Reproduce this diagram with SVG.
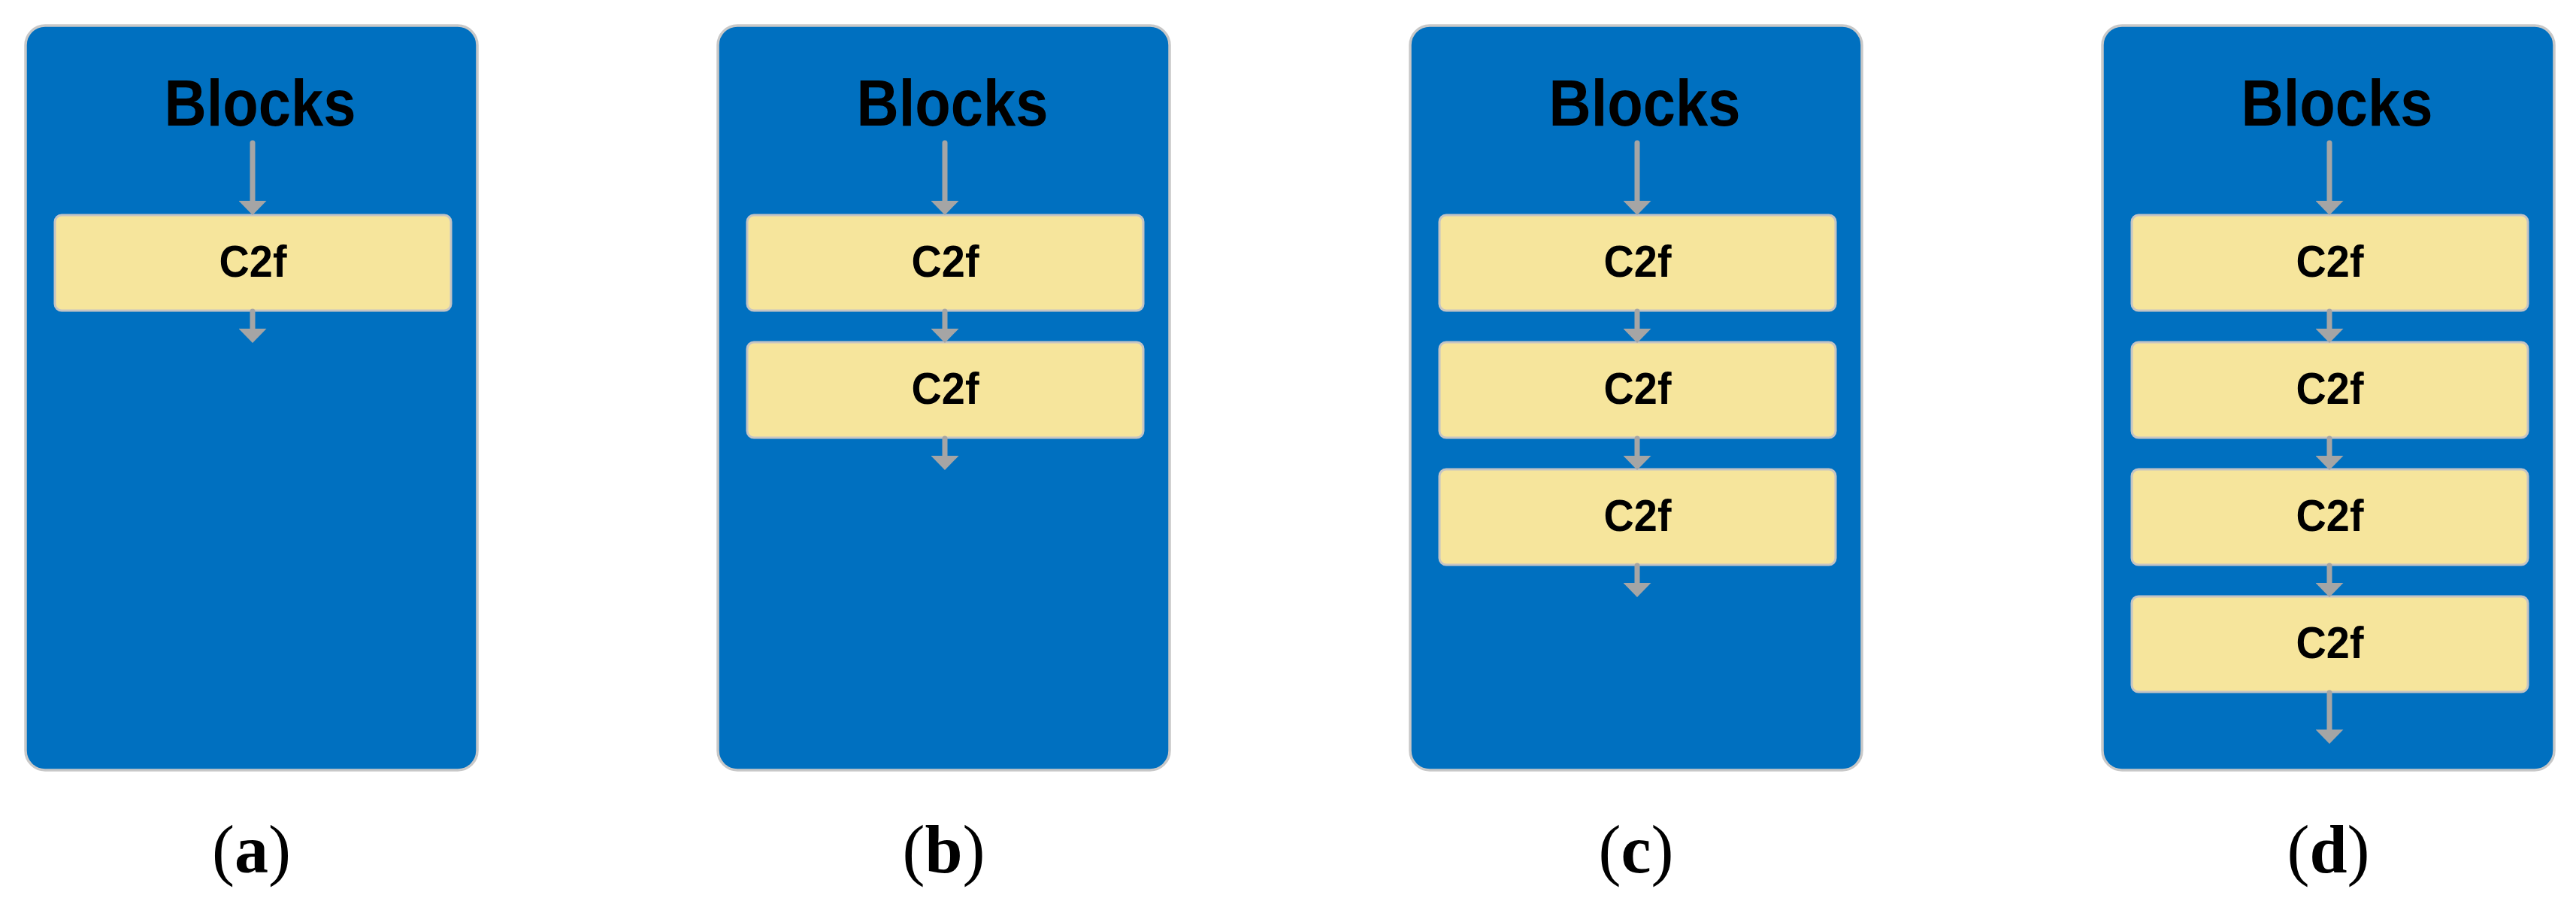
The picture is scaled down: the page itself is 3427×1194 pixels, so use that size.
<svg xmlns="http://www.w3.org/2000/svg" width="3427" height="1194" viewBox="0 0 3427 1194">
<style>
.panel{fill:#0070C0;stroke:#C8C8C8;stroke-width:3.5}
.box{fill:#F6E59C;stroke:#C4C4C4;stroke-width:3}
.title{font-family:"Liberation Sans",Arial,sans-serif;font-weight:bold;font-size:88px;fill:#000;text-anchor:middle}
.lbl{font-family:"Liberation Sans",Arial,sans-serif;font-weight:bold;font-size:60px;fill:#000;text-anchor:middle}
.cap{font-family:"Liberation Serif","Times New Roman",serif;font-size:90px;fill:#000;text-anchor:middle}
.arr{stroke:#A5A5A5;stroke-width:7;stroke-linecap:round;fill:none;marker-end:url(#head)}
</style>
<defs>
<marker id="head" markerUnits="userSpaceOnUse" viewBox="0 -18.5 19 37" refX="0" refY="0" markerWidth="19" markerHeight="37" orient="auto">
<path d="M0,-18.5 L19,0 L0,18.5 z" fill="#A5A5A5"/>
</marker>
</defs>
<rect width="3427" height="1194" fill="#FFFFFF"/>

<g id="panel-a">
<rect class="panel" x="34" y="34" width="601" height="990" rx="26"/>
<text class="title" x="346" y="167" textLength="255" lengthAdjust="spacingAndGlyphs">Blocks</text>
</g>
<g id="a-c2f-1"><rect class="box" x="73" y="286" width="527" height="127" rx="9"/><text class="lbl" x="336.5" y="368" textLength="90" lengthAdjust="spacingAndGlyphs">C2f</text></g>

<g id="panel-b">
<rect class="panel" x="955" y="34" width="601" height="990" rx="26"/>
<text class="title" x="1267" y="167" textLength="255" lengthAdjust="spacingAndGlyphs">Blocks</text>
</g>
<g id="b-c2f-1"><rect class="box" x="994" y="286" width="527" height="127" rx="9"/><text class="lbl" x="1257.5" y="368" textLength="90" lengthAdjust="spacingAndGlyphs">C2f</text></g>
<g id="b-c2f-2"><rect class="box" x="994" y="455" width="527" height="127" rx="9"/><text class="lbl" x="1257.5" y="537" textLength="90" lengthAdjust="spacingAndGlyphs">C2f</text></g>

<g id="panel-c">
<rect class="panel" x="1876" y="34" width="601" height="990" rx="26"/>
<text class="title" x="2188" y="167" textLength="255" lengthAdjust="spacingAndGlyphs">Blocks</text>
</g>
<g id="c-c2f-1"><rect class="box" x="1915" y="286" width="527" height="127" rx="9"/><text class="lbl" x="2178.5" y="368" textLength="90" lengthAdjust="spacingAndGlyphs">C2f</text></g>
<g id="c-c2f-2"><rect class="box" x="1915" y="455" width="527" height="127" rx="9"/><text class="lbl" x="2178.5" y="537" textLength="90" lengthAdjust="spacingAndGlyphs">C2f</text></g>
<g id="c-c2f-3"><rect class="box" x="1915" y="624" width="527" height="127" rx="9"/><text class="lbl" x="2178.5" y="706" textLength="90" lengthAdjust="spacingAndGlyphs">C2f</text></g>

<g id="panel-d">
<rect class="panel" x="2797" y="34" width="601" height="990" rx="26"/>
<text class="title" x="3109" y="167" textLength="255" lengthAdjust="spacingAndGlyphs">Blocks</text>
</g>
<g id="d-c2f-1"><rect class="box" x="2836" y="286" width="527" height="127" rx="9"/><text class="lbl" x="3099.5" y="368" textLength="90" lengthAdjust="spacingAndGlyphs">C2f</text></g>
<g id="d-c2f-2"><rect class="box" x="2836" y="455" width="527" height="127" rx="9"/><text class="lbl" x="3099.5" y="537" textLength="90" lengthAdjust="spacingAndGlyphs">C2f</text></g>
<g id="d-c2f-3"><rect class="box" x="2836" y="624" width="527" height="127" rx="9"/><text class="lbl" x="3099.5" y="706" textLength="90" lengthAdjust="spacingAndGlyphs">C2f</text></g>
<g id="d-c2f-4"><rect class="box" x="2836" y="793" width="527" height="127" rx="9"/><text class="lbl" x="3099.5" y="875" textLength="90" lengthAdjust="spacingAndGlyphs">C2f</text></g>

<g id="connectors">
<line class="arr" x1="336" y1="190" x2="336" y2="267"/>
<line class="arr" x1="336" y1="414" x2="336" y2="437"/>

<line class="arr" x1="1257" y1="190" x2="1257" y2="267"/>
<line class="arr" x1="1257" y1="414" x2="1257" y2="437"/>
<line class="arr" x1="1257" y1="583" x2="1257" y2="606"/>

<line class="arr" x1="2178" y1="190" x2="2178" y2="267"/>
<line class="arr" x1="2178" y1="414" x2="2178" y2="437"/>
<line class="arr" x1="2178" y1="583" x2="2178" y2="606"/>
<line class="arr" x1="2178" y1="752" x2="2178" y2="775"/>

<line class="arr" x1="3099" y1="190" x2="3099" y2="267"/>
<line class="arr" x1="3099" y1="414" x2="3099" y2="437"/>
<line class="arr" x1="3099" y1="583" x2="3099" y2="606"/>
<line class="arr" x1="3099" y1="752" x2="3099" y2="775"/>
<line class="arr" x1="3099" y1="921" x2="3099" y2="970"/>
</g>

<g id="captions">
<text class="cap" x="334.5" y="1160">(<tspan font-weight="bold">a</tspan>)</text>
<text class="cap" x="1255.5" y="1160">(<tspan font-weight="bold">b</tspan>)</text>
<text class="cap" x="2176.5" y="1160">(<tspan font-weight="bold">c</tspan>)</text>
<text class="cap" x="3097.5" y="1160">(<tspan font-weight="bold">d</tspan>)</text>
</g>
</svg>
